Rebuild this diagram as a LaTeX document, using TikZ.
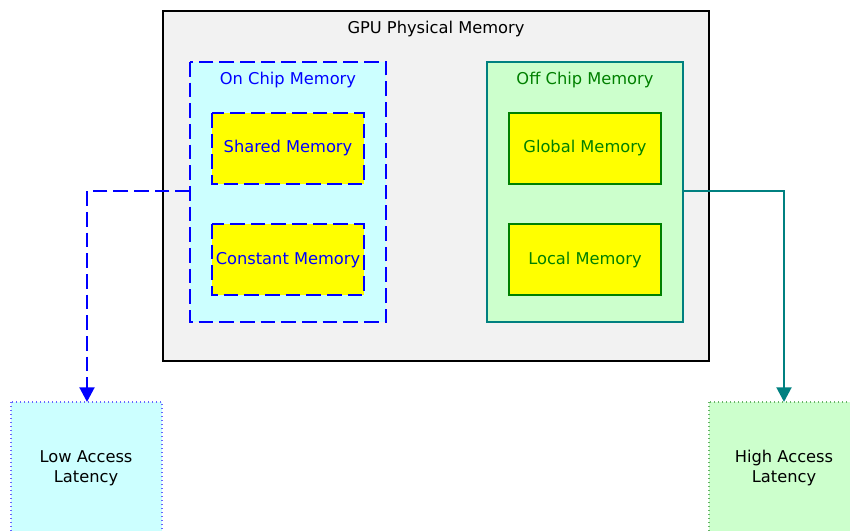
\documentclass[tikz,border=0pt]{standalone}
\usepackage{fontspec}
\setmainfont{DejaVu Sans}
\usetikzlibrary{arrows.meta}
\definecolor{gpufill}{HTML}{F2F2F2}
\definecolor{cyanfill}{HTML}{CCFFFF}
\definecolor{mintfill}{HTML}{CCFFCC}
\definecolor{tealline}{HTML}{008080}
\definecolor{darkgreen}{HTML}{008000}
\definecolor{memyellow}{HTML}{FFFF00}
\tikzset{
  px/.style={x=0.75pt,y=-0.75pt},
  lbl/.style={font=\fontsize{12.2}{14.3}\selectfont, inner sep=0pt, anchor=base},
  longdash/.style={dash pattern=on 11pt off 4.5pt},
  onchip/.style={draw=blue, fill=cyanfill, line width=2.2pt, longdash},
  onmem/.style={draw=blue, fill=memyellow, line width=2.2pt, longdash},
  offchip/.style={draw=tealline, fill=mintfill, line width=2.2pt},
  offmem/.style={draw=darkgreen, fill=memyellow, line width=2.2pt},
  latency/.style={line width=0.8pt, dash pattern=on 0.8pt off 2.2pt},
  conn/.style={line width=2.2pt, -{Triangle[length=11pt,width=11pt]}},
}
\begin{document}
\begin{tikzpicture}[px]
\useasboundingbox (0,0) rectangle (850,531);
% latency boxes, running off the lower edge
\begin{scope}
\clip (0,0) rectangle (850,531);
\draw[latency, draw=blue!60, fill=cyanfill] (11,402) rectangle (162,540);
\draw[latency, draw=darkgreen!60, fill=mintfill] (709,402) rectangle (860,540);
\end{scope}
\node[lbl, align=center] (low) at (86,482) {Low Access\\Latency};
\node[lbl, align=center] (high) at (784,482) {High Access\\Latency};
\coordinate (lowtop) at (87,402);
\coordinate (hightop) at (784,402);

% GPU memory container
\draw[line width=2.2pt, fill=gpufill] (163,11) rectangle (709,361);
\node[lbl] (gpu) at (436,34) {GPU Physical Memory};

% on chip group
\draw[onchip] (190,62) rectangle (386,322);
\node[lbl, text=blue] (onchip) at (288,85) {On Chip Memory};
\coordinate (onleft) at (190,191);
\draw[onmem] (212,113) rectangle (364,184);
\node[lbl, text=blue] (shared) at (288,153) {Shared Memory};
\draw[onmem] (212,224) rectangle (364,295);
\node[lbl, text=blue] (constant) at (288,264) {Constant Memory};

% off chip group
\draw[offchip] (487,62) rectangle (683,322);
\node[lbl, text=darkgreen] (offchip) at (585,85) {Off Chip Memory};
\coordinate (offright) at (683,191);
\draw[offmem] (509,113) rectangle (661,184);
\node[lbl, text=darkgreen] (global) at (585,153) {Global Memory};
\draw[offmem] (509,224) rectangle (661,295);
\node[lbl, text=darkgreen] (local) at (585,264) {Local Memory};

% connectors
\draw[conn, blue, longdash] (onleft) -| (lowtop);
\draw[conn, tealline] (offright) -| (hightop);
\end{tikzpicture}
\end{document}
